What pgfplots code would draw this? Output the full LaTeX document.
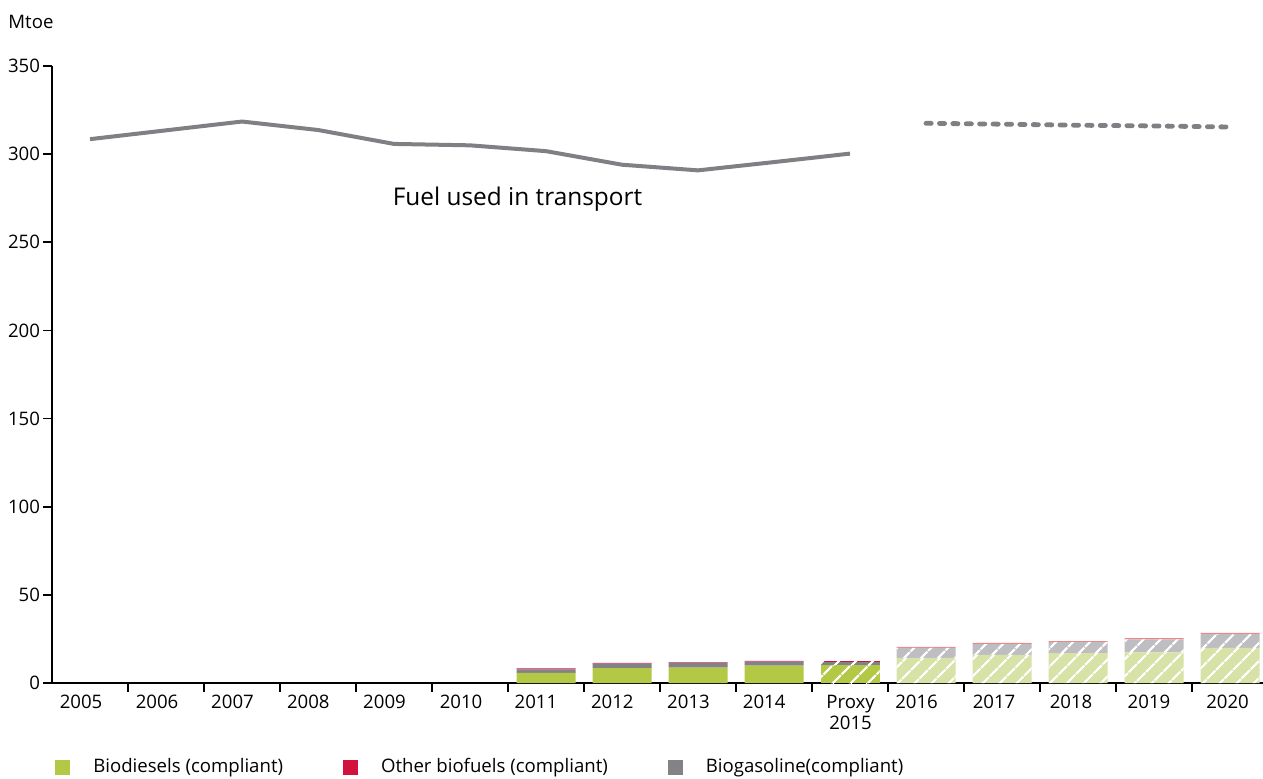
\documentclass[border=0pt]{standalone}
\usepackage{pgfplots}
\pgfplotsset{compat=1.18}
\usepackage{fontspec}
\setmainfont{Open Sans}
\usetikzlibrary{patterns.meta}
\definecolor{bioG}{HTML}{B3C945}
\definecolor{redC}{HTML}{D2123C}
\definecolor{grayC}{HTML}{838387}
\definecolor{lineG}{HTML}{808084}
\definecolor{bioGL}{HTML}{D7E2A6}
\definecolor{grayL}{HTML}{BEBEC2}
\definecolor{redL}{HTML}{F08585}
\begin{document}
\begin{tikzpicture}
\pgfplotsset{
  base/.style={width=605.5pt,height=308.5pt,scale only axis,
    xmin=-0.5,xmax=15.434,ymin=0,ymax=350,at={(0,0)},anchor=south west,clip=false},
  hatch/.style={postaction={pattern={Lines[angle=45,distance=6.5pt,line width=1.3pt]},pattern color=white}},
}
\begin{axis}[base,
  axis x line*=bottom, axis y line*=left,
  axis line style={line width=1pt,black},
  ybar stacked, bar width=0.776,
  ytick={0,50,...,350},
  xtick={-0.118,0.882,1.875,2.872,3.875,4.882,5.868,6.872,7.875,8.871,10.007,10.875,11.895,12.908,13.934,14.967},
  xticklabels={2005,2006,2007,2008,2009,2010,2011,2012,2013,2014,{Proxy\\2015},2016,2017,2018,2019,2020},
  minor xtick={0.5,1.5,...,14.5},
  tick align=outside,
  major tick length=4.5pt, minor tick length=4.5pt,
  major x tick style={draw=none},
  tick style={line width=0.8pt,black},
  every tick label/.append style={font=\fontsize{9.3}{10.5}\selectfont},
  xticklabel style={align=center,yshift=2pt},
  yticklabel style={xshift=2pt},
  /pgf/number format/assume math mode=true,
]
\addplot[fill=bioG,draw=none] coordinates {(6,5.7)(7,8.5)(8,8.7)(9,9.8)(10,0)(11,0)(12,0)(13,0)(14,0)(15,0)};
\addplot[fill=bioG,draw=none,hatch] coordinates {(6,0)(7,0)(8,0)(9,0)(10,10.2)(11,0)(12,0)(13,0)(14,0)(15,0)};
\addplot[fill=bioGL,draw=none,hatch] coordinates {(6,0)(7,0)(8,0)(9,0)(10,0)(11,14.2)(12,15.9)(13,17.0)(14,17.4)(15,19.9)};
\addplot[fill=grayC,draw=none] coordinates {(6,2.0)(7,2.5)(8,2.7)(9,2.4)(10,0)(11,0)(12,0)(13,0)(14,0)(15,0)};
\addplot[fill=grayC,draw=none,hatch] coordinates {(6,0)(7,0)(8,0)(9,0)(10,1.9)(11,0)(12,0)(13,0)(14,0)(15,0)};
\addplot[fill=grayL,draw=none,hatch] coordinates {(6,0)(7,0)(8,0)(9,0)(10,0)(11,5.7)(12,6.2)(13,6.2)(14,7.4)(15,7.9)};
\addplot[fill=redC,draw=none] coordinates {(6,0.6)(7,0.4)(8,0.3)(9,0.4)(10,0)(11,0)(12,0)(13,0)(14,0)(15,0)};
\addplot[fill=redC,draw=none] coordinates {(6,0)(7,0)(8,0)(9,0)(10,0.6)(11,0)(12,0)(13,0)(14,0)(15,0)};
\addplot[fill=redL,draw=none] coordinates {(6,0)(7,0)(8,0)(9,0)(10,0)(11,0.6)(12,0.6)(13,0.6)(14,0.7)(15,0.6)};
\node[anchor=west,inner sep=0pt,font=\fontsize{9.3}{10.5}\selectfont] at (rel axis cs:-0.0363,1.0713) {Mtoe};
\end{axis}
\begin{axis}[base, hide axis,
  legend style={draw=none,fill=none,inner sep=0pt,
    at={(axis description cs:0.0024,-0.1155)},anchor=north west,
    font=\fontsize{9.3}{10.5}\selectfont,
    /tikz/every odd column/.append style={column sep=9.5pt},
    /tikz/every even column/.append style={column sep=28pt}},
  legend columns=3,
  legend image code/.code={\fill (0pt,-3.75pt) rectangle (7.5pt,3.75pt);},
]
\addplot[forget plot,lineG,line width=2pt,line join=round] coordinates {(0,308.5)(1,313.5)(2,318.5)(3,313.7)(4,305.8)(5,305)(6,301.7)(7,294)(8,290.8)(9,295.5)(10,300.3)};
\addplot[forget plot,lineG,line width=2.4pt,line cap=round,dash pattern=on 2.6pt off 4.1pt] coordinates {(11,317.5)(12,317)(13,316.4)(14,316)(15,315.4)};
\node[font=\fontsize{12.2}{14}\selectfont] at (rel axis cs:0.3844,0.784) {Fuel used in transport};
\addlegendimage{fill=bioG,draw=none}
\addlegendentry{Biodiesels (compliant)}
\addlegendimage{fill=redC,draw=none}
\addlegendentry{Other biofuels (compliant)}
\addlegendimage{fill=grayC,draw=none}
\addlegendentry{Biogasoline(compliant)}
\end{axis}
\pgfresetboundingbox
\path[use as bounding box] (-26pt,-47.5pt) rectangle (605.5pt,341.5pt);
\end{tikzpicture}
\end{document}
